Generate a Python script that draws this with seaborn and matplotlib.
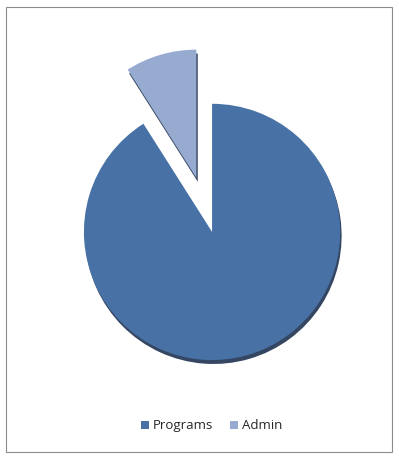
import matplotlib
matplotlib.use("Agg")
import matplotlib.pyplot as plt
import seaborn as sns
from matplotlib.patches import Rectangle, Shadow

labels = ["Programs", "Admin"]
shares = [91, 9]
colors = ["#4872A6", "#97ABD1"]
explode = [0, 0.44]

sns.set_theme(style="white")
plt.rcParams["font.family"] = ["Open Sans", "DejaVu Sans"]

fig = plt.figure(figsize=(3.99, 4.57), dpi=100)
fig.patch.set_facecolor("white")
fig.add_artist(Rectangle((6 / 399, 1 - 452 / 457), 386 / 399, 445 / 457,
                         transform=fig.transFigure, fill=False,
                         edgecolor="#8c8c8c", linewidth=0.8))

ax = fig.add_axes([0.114, 0.128, 0.835, 0.729])
wedges, _ = ax.pie(shares, colors=colors, explode=explode, startangle=90,
                   counterclock=False,
                   shadow={"ox": 0.008, "oy": -0.022},
                   wedgeprops={"linewidth": 0})
# darker, bluish shadow like the original
for p in ax.patches:
    if isinstance(p, Shadow):
        p.set_facecolor("#1e3250")
        p.set_edgecolor("none")
        p.set_alpha(0.9)
ax.set_xlim(-1.3, 1.3)
ax.set_ylim(-1.3, 1.3)
ax.set_aspect("equal")
ax.axis("off")

fig.legend(wedges, labels, loc="center", bbox_to_anchor=(0.53, 0.068),
           ncol=2, frameon=False, fontsize=9.5, handlelength=0.6,
           handleheight=0.6, handletextpad=0.3, columnspacing=1.3)

fig.savefig("out.png", dpi=100)
